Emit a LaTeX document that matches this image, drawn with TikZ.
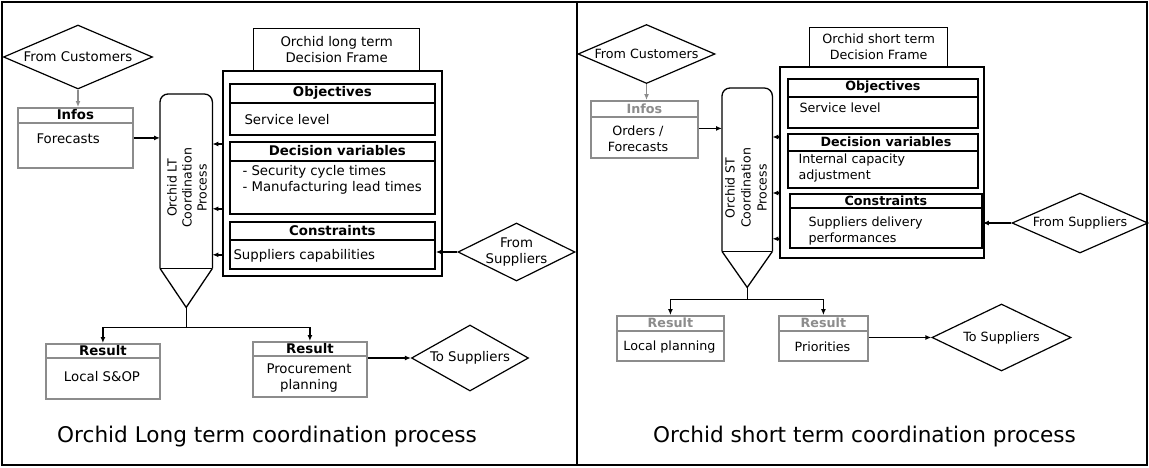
\documentclass[tikz,border=0pt]{standalone}
\usepackage{fontspec}
\setmainfont{DejaVu Sans}
\usetikzlibrary{shapes.geometric,arrows.meta,calc}
\definecolor{gbx}{RGB}{140,140,140}
\begin{document}
\begin{tikzpicture}[x=1pt,y=-1pt,
  fr/.style={draw=black,line width=2pt},
  kbox/.style={draw=black,line width=1.8pt,inner sep=0pt,anchor=north west},
  gbox/.style={draw=gbx,line width=1.8pt,inner sep=0pt,anchor=north west},
  tbox/.style={draw=black,line width=1.3pt,inner sep=0pt,anchor=north west},
  dia/.style={draw=black,diamond,line width=1.2pt,inner sep=0pt},
  arr/.style={line width=1.4pt,-{Latex[length=6pt,width=5pt]}},
  garr/.style={draw=gbx,line width=1.6pt,-{Latex[length=6pt,width=5pt]}},
  ln/.style={line width=1.4pt},
  proc/.style={line width=1.3pt},
  hl/.style={line width=1.8pt},
  fL/.style={font=\fontsize{13.3}{16}\selectfont},
  fR/.style={font=\fontsize{12.7}{16}\selectfont},
  bL/.style={font=\fontsize{13.3}{16}\selectfont\bfseries},
  bR/.style={font=\fontsize{12.7}{16}\selectfont\bfseries},
  pL/.style={font=\fontsize{12.5}{15}\selectfont,rotate=90,align=center},
  captxt/.style={font=\fontsize{21.6}{26}\selectfont},
]
\useasboundingbox (0,0) rectangle (1149,467);
% outer frames
\draw[fr] (2,2) rectangle (1147,465);
\draw[fr] (577,2) -- (577,465);

%%%%%%%%%%%%%%%% LEFT PANEL %%%%%%%%%%%%%%%%
\node[dia,minimum width=149,minimum height=64] (custL) at (78,57) {};
\node[fL] at (custL.center) {From Customers};

\node[gbox,minimum width=115,minimum height=60] (infL) at (17,107) {};
\draw[hl,draw=gbx] ($(infL.north west)+(0,16)$) -- ($(infL.north east)+(0,16)$);
\node[bL] at ($(infL.north)+(0,8)$) {Infos};
\node[fL,anchor=west] at (33,139) {Forecasts};
\draw[garr] (custL.south) -- (custL.south |- infL.north);

% process
\node[inner sep=0pt,minimum width=52,minimum height=174,anchor=north west] (procL) at (160,94) {};
\draw[proc,rounded corners=8pt] (procL.south west) |- (procL.north) -| (procL.south east);
\draw[proc] (procL.south west) -- (procL.south east);
\coordinate (apexL) at ($(procL.south)+(0,39)$);
\draw[proc] (procL.south west) -- (apexL) -- (procL.south east);
\node[pL] at (187,188) {Orchid LT\\Coordination\\Process};
\draw[arr] (infL.east) -- (infL.east -| procL.west);

% decision frame
\node[tbox,minimum width=166,minimum height=42] (titleL) at (253,28) {};
\node[fL,align=center] at (titleL.center) {Orchid long term\\Decision Frame};
\node[kbox,minimum width=219,minimum height=205,fill=white] (frameL) at (222,70) {};

\node[kbox,minimum width=205,minimum height=51] (objL) at (229,83) {};
\draw[hl] ($(objL.north west)+(0,20)$) -- ($(objL.north east)+(0,20)$);
\node[bL] at ($(objL.north)+(0,10)$) {Objectives};
\node[fL,anchor=west] at (241,120) {Service level};

\node[kbox,minimum width=205,minimum height=72] (dvL) at (229,141) {};
\draw[hl] ($(dvL.north west)+(0,20)$) -- ($(dvL.north east)+(0,20)$);
\node[bL] at ($(dvL.north)+(5,10)$) {Decision variables};
\node[fL,anchor=west,align=left] at (239,180) {- Security cycle times\\- Manufacturing lead times};

\node[kbox,minimum width=205,minimum height=47] (conL) at (229,221) {};
\draw[hl] ($(conL.north west)+(0,19)$) -- ($(conL.north east)+(0,19)$);
\node[bL] at ($(conL.north)+(0,9.5)$) {Constraints};
\node[fL,anchor=west] at (230,256) {Suppliers capabilities};

\path (frameL.west |- dvL.north) ++(0,3) coordinate (aL1);
\path (frameL.west |- dvL.south) ++(0,-6) coordinate (aL2);
\path (frameL.west |- conL.south) ++(0,-15) coordinate (aL3);
\draw[arr] (aL1) -- (aL1 -| procL.east);
\draw[arr] (aL2) -- (aL2 -| procL.east);
\draw[arr] (aL3) -- (aL3 -| procL.east);

\node[dia,minimum width=117,minimum height=58] (supL) at (516.5,252) {};
\node[fL,align=center] at (supL.center) {From\\Suppliers};
\draw[arr] (supL.west) -- (supL.west -| conL.east);

% results
\node[gbox,minimum width=114,minimum height=55] (resL1) at (45,343) {};
\draw[hl,draw=gbx] ($(resL1.north west)+(0,15)$) -- ($(resL1.north east)+(0,15)$);
\node[bL] at ($(resL1.north)+(0,8)$) {Result};
\node[fL] at (102,377) {Local S\&OP};

\node[gbox,minimum width=114,minimum height=55] (resL2) at (252,341) {};
\draw[hl,draw=gbx] ($(resL2.north west)+(0,15)$) -- ($(resL2.north east)+(0,15)$);
\node[bL] at ($(resL2.north)+(0,8)$) {Result};
\node[fL,align=center] at (309,378) {Procurement\\planning};

\draw[ln] (apexL) -- ++(0,20) coordinate (brL);
\draw[arr] (brL) -| (resL1.north);
\draw[arr] (brL) -| (resL2.north);

\node[dia,minimum width=117,minimum height=66] (toSupL) at (470,358) {};
\node[fL] at (toSupL.center) {To Suppliers};
\draw[arr] (toSupL.west -| resL2.east) -- (toSupL.west);

\node[captxt] at (267,437) {Orchid Long term coordination process};

%%%%%%%%%%%%%%%% RIGHT PANEL %%%%%%%%%%%%%%%%
\node[dia,minimum width=137,minimum height=59] (custR) at (646.5,54) {};
\node[fR] at (custR.center) {From Customers};

\node[gbox,minimum width=107,minimum height=57] (infR) at (590,100) {};
\draw[hl,draw=gbx] ($(infR.north west)+(0,17)$) -- ($(infR.north east)+(0,17)$);
\node[bR,text=gbx] at ($(infR.north)+(0,8.5)$) {Infos};
\node[fR,align=center] at (638,139) {Orders /\\Forecasts};
\draw[garr] (custR.south) -- (custR.south |- infR.north);

\node[inner sep=0pt,minimum width=50,minimum height=163,anchor=north west] (procR) at (722,88) {};
\draw[proc,rounded corners=8pt] (procR.south west) |- (procR.north) -| (procR.south east);
\draw[proc] (procR.south west) -- (procR.south east);
\coordinate (apexR) at ($(procR.south)+(0,36)$);
\draw[proc] (procR.south west) -- (apexR) -- (procR.south east);
\node[pL,font=\fontsize{12.5}{16}\selectfont] at (746,188) {Orchid ST\\Coordination\\Process};
\draw[arr] ($(infR.east)+(0,-1)$) -- ($(infR.east -| procR.west)+(0,-1)$);

\node[tbox,minimum width=138,minimum height=39] (titleR) at (809,27) {};
\node[fR,align=center] at (titleR.center) {Orchid short term\\Decision Frame};
\node[kbox,minimum width=204,minimum height=191,fill=white] (frameR) at (779,66) {};

\node[kbox,minimum width=190,minimum height=49] (objR) at (787,78) {};
\draw[hl] ($(objR.north west)+(0,19)$) -- ($(objR.north east)+(0,19)$);
\node[bR] at ($(objR.north)+(0,9.5)$) {Objectives};
\node[fR,anchor=west] at (796,108) {Service level};

\node[kbox,minimum width=190,minimum height=54] (dvR) at (787,133) {};
\draw[hl] ($(dvR.north west)+(0,18)$) -- ($(dvR.north east)+(0,18)$);
\node[bR] at ($(dvR.north)+(3,9)$) {Decision variables};
\node[fR,anchor=west,align=left] at (795,168) {Internal capacity\\adjustment};

\node[kbox,minimum width=192,minimum height=54] (conR) at (789,193) {};
\draw[hl] ($(conR.north west)+(0,15)$) -- ($(conR.north east)+(0,15)$);
\node[bR] at ($(conR.north)+(0,7.5)$) {Constraints};
\node[fR,anchor=west,align=left] at (805,231) {Suppliers delivery\\performances};

\path (frameR.west |- dvR.north) ++(0,4) coordinate (aR1);
\path (frameR.west |- conR.north) coordinate (aR2);
\path (frameR.west |- conR.south) ++(0,-10) coordinate (aR3);
\draw[arr] (aR1) -- (aR1 -| procR.east);
\draw[arr] (aR2) -- (aR2 -| procR.east);
\draw[arr] (aR3) -- (aR3 -| procR.east);

\node[dia,minimum width=136,minimum height=60] (supR) at (1080,223) {};
\node[fR] at (supR.center) {From Suppliers};
\draw[arr] (supR.west) -- (supR.west -| conR.east);

\node[gbox,minimum width=107,minimum height=45] (resR1) at (616,315) {};
\draw[hl,draw=gbx] ($(resR1.north west)+(0,16)$) -- ($(resR1.north east)+(0,16)$);
\node[bR,text=gbx] at ($(resR1.north)+(0,8)$) {Result};
\node[fR] at (669.5,347) {Local planning};

\node[gbox,minimum width=89,minimum height=45] (resR2) at (778,315) {};
\draw[hl,draw=gbx] ($(resR2.north west)+(0,16)$) -- ($(resR2.north east)+(0,16)$);
\node[bR,text=gbx] at ($(resR2.north)+(0,8)$) {Result};
\node[fR] at (822.5,347) {Priorities};

\draw[ln] (apexR) -- ++(0,12) coordinate (brR);
\draw[arr] (brR) -| (resR1.north);
\draw[arr] (brR) -| (resR2.north);

\node[dia,minimum width=139,minimum height=67] (toSupR) at (1001.5,337.5) {};
\node[fR] at (toSupR.center) {To Suppliers};
\draw[arr] (toSupR.west -| resR2.east) -- (toSupR.west);

\node[captxt] at (864.5,437) {Orchid short term coordination process};
\end{tikzpicture}
\end{document}
